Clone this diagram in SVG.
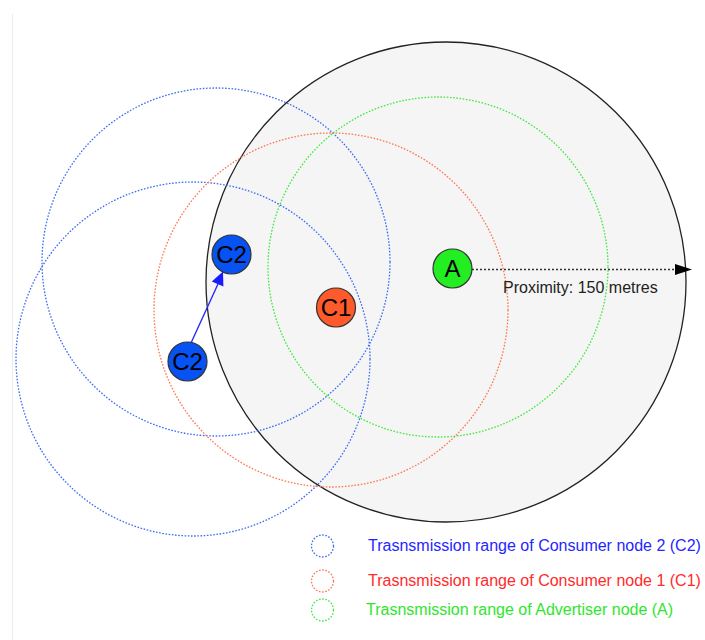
<svg xmlns="http://www.w3.org/2000/svg" width="705" height="640" viewBox="0 0 705 640">
  <style>
    .range { fill: none; stroke-width: 1.3; stroke-dasharray: 1.6 1.6; }
    .blue { stroke: #3e6cf2; }
    .red { stroke: #ff7650; }
    .green { stroke: #3ee83e; }
    .node { stroke: #333; stroke-width: 1.2; }
    .lbl { font-family: "Liberation Sans", Arial, sans-serif; font-size: 24px; fill: #000; text-anchor: middle; }
    .legend { font-family: "Liberation Sans", Arial, sans-serif; font-size: 16px; }
  </style>

  <rect width="705" height="640" fill="#fff"/>
  <line x1="12.5" y1="14" x2="12.5" y2="640" stroke="#ececec" stroke-width="1"/>

  <!-- proximity area around the advertiser -->
  <g id="proximity">
    <circle cx="446" cy="282" r="240" fill="#f5f5f5" stroke="#222" stroke-width="1.3"/>
  </g>

  <!-- transmission ranges -->
  <g id="ranges">
    <circle class="range blue" cx="216" cy="262" r="174"/>
    <circle class="range blue" cx="193" cy="359" r="177"/>
    <circle class="range red" cx="331" cy="310" r="177"/>
    <circle class="range green" cx="438" cy="267" r="170"/>
  </g>

  <g id="connectors">
    <!-- movement of consumer node 2 -->
    <line x1="191" y1="343" x2="218" y2="284" stroke="#2a2aff" stroke-width="1.4"/>
    <polygon points="223,271.5 223.4,286.6 211.8,281.4" fill="#1a1aff"/>
    <!-- proximity radius -->
    <line x1="472" y1="269.5" x2="678" y2="269.5" stroke="#333" stroke-width="1.4" stroke-dasharray="2 2"/>
    <polygon points="675,264 692,269.5 675,275" fill="#000"/>
  </g>

  <g id="node-A">
    <circle class="node" cx="452.5" cy="268.5" r="19.5" fill="#22ee22"/>
    <text class="lbl" x="452.5" y="277">A</text>
  </g>
  <g id="node-C1">
    <circle class="node" cx="336" cy="307.5" r="19.5" fill="#ff5a2c"/>
    <text class="lbl" x="336" y="316">C1</text>
  </g>
  <g id="node-C2-new">
    <circle class="node" cx="231.5" cy="254.5" r="19.5" fill="#0652f2"/>
    <text class="lbl" x="231.5" y="263">C2</text>
  </g>
  <g id="node-C2-old">
    <circle class="node" cx="187.5" cy="361.5" r="19.5" fill="#0652f2"/>
    <text class="lbl" x="187.5" y="370">C2</text>
  </g>

  <g id="proximity-label">
    <text class="legend" x="503" y="293" fill="#222">Proximity: 150 metres</text>
  </g>

  <g id="legend">
    <circle class="range blue" cx="322.5" cy="546" r="11"/>
    <text class="legend" x="368" y="551" fill="#2626ff">Trasnsmission range of Consumer node 2 (C2)</text>
    <circle class="range red" cx="322.5" cy="581" r="11"/>
    <text class="legend" x="368" y="586" fill="#ff2a2a">Trasnsmission range of Consumer node 1 (C1)</text>
    <circle class="range green" cx="322.5" cy="610" r="11"/>
    <text class="legend" x="366" y="614.5" fill="#2ee62e">Trasnsmission range of Advertiser node (A)</text>
  </g>
</svg>
